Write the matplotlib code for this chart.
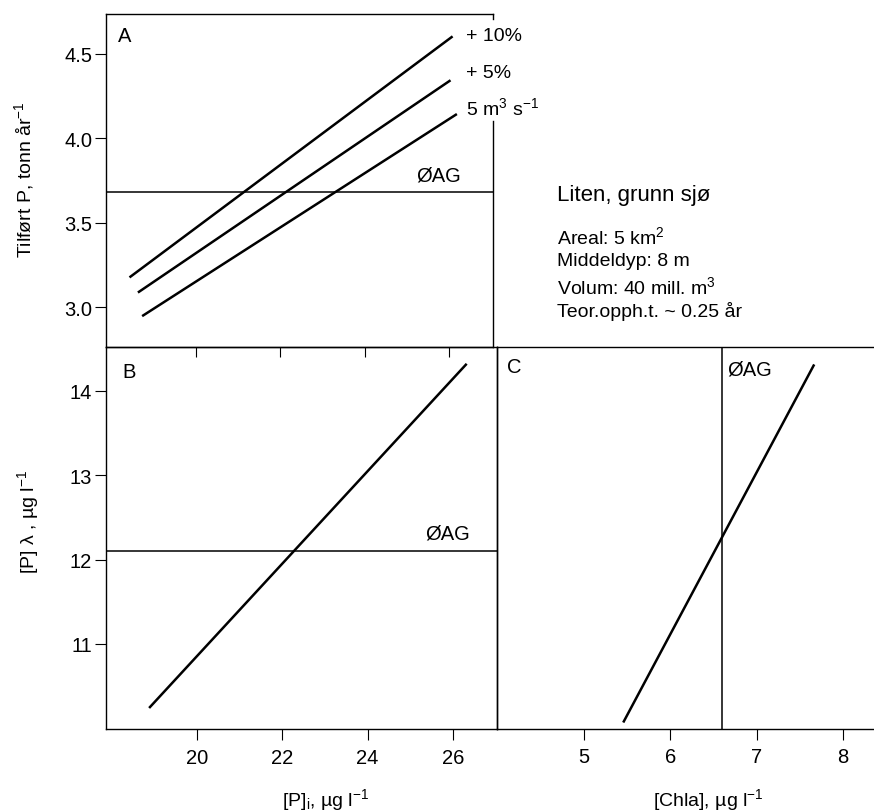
import matplotlib
matplotlib.use('Agg')
import matplotlib.pyplot as plt

plt.rcParams['font.family'] = ['Liberation Sans', 'DejaVu Sans']
plt.rcParams['mathtext.default'] = 'regular'
plt.rcParams['font.size'] = 14

# Panel A: tilført P vs [P]i for three flow scenarios
a_x_10 = [18.45, 26.05]
a_y_10 = [3.18, 4.60]
a_x_5 = [18.65, 26.0]
a_y_5 = [3.09, 4.34]
a_x_base = [18.75, 26.15]
a_y_base = [2.95, 4.14]
oag_a = 3.68
a_labels = ['+ 10%', '+ 5%', '5 m$^{3}$ s$^{-1}$']

# Panel B: [P]lambda vs [P]i
b_x = [18.9, 26.3]
b_y = [10.25, 14.31]
oag_b = 12.1

# Panel C: [P]lambda vs [Chla]
c_x = [5.46, 7.66]
c_y = [10.08, 14.3]
oag_c = 6.6

a_yticks = [3.0, 3.5, 4.0, 4.5]
b_yticks = [11, 12, 13, 14]
b_xticks = [20, 22, 24, 26]
c_xticks = [5, 6, 7, 8]

info_title = 'Liten, grunn sjø'
info_lines = ['Areal: 5 km$^{2}$', 'Middeldyp: 8 m',
              'Volum: 40 mill. m$^{3}$', 'Teor.opph.t. ~ 0.25 år']

W, H = 874, 812
fig = plt.figure(figsize=(W / 100, H / 100), dpi=100)


def box(l, t, r, b):
    return [l / W, 1 - b / H, (r - l) / W, (b - t) / H]


ax_a = fig.add_axes(box(106, 15, 493, 348), facecolor='none')
ax_b = fig.add_axes(box(106, 348, 497, 730), facecolor='none')
ax_c = fig.add_axes(box(497, 348, 874, 730), facecolor='none')

lw = 1.8
xlim_p = (17.87, 27.03)

# --- A ---
ax_a.plot(a_x_10, a_y_10, color='black', lw=lw)
ax_a.plot(a_x_5, a_y_5, color='black', lw=lw)
ax_a.plot(a_x_base, a_y_base, color='black', lw=lw)
ax_a.axhline(oag_a, color='black', lw=1.1)
ax_a.set_xlim(xlim_p)
ax_a.set_ylim(2.763, 4.737)
ax_a.set_yticks(a_yticks)
ax_a.set_yticklabels(['%.1f' % v for v in a_yticks])
ax_a.set_xticks(b_xticks)
ax_a.tick_params(axis='x', bottom=True, labelbottom=False, direction='out', length=7)
ax_a.tick_params(axis='y', direction='out', length=8, pad=2, labelsize=14.5)
ax_a.spines['right'].set_bounds(2.763, 4.1)
ax_a.plot([1, 1], [0.985, 1.0], transform=ax_a.transAxes, color='black', lw=1.0, clip_on=False)
for lab, yy in zip(a_labels, [4.607, 4.393, 4.186]):
    ax_a.text(26.39, yy, lab, ha='left', va='center', fontsize=14, clip_on=False)
ax_a.text(25.22, 3.78, 'ØAG', ha='left', va='center', fontsize=14.5)
ax_a.text(0.031, 0.934, 'A', transform=ax_a.transAxes, ha='left', va='center', fontsize=14.5)

# --- B ---
ax_b.plot(b_x, b_y, color='black', lw=lw)
ax_b.axhline(oag_b, color='black', lw=1.1)
ax_b.set_xlim(xlim_p)
ax_b.set_ylim(9.99, 14.52)
ax_b.set_xticks(b_xticks)
ax_b.set_yticks(b_yticks)
ax_b.tick_params(direction='out', length=8, pad=2, labelsize=14.5)
ax_b.tick_params(axis='x', pad=6)
ax_b.text(25.34, 12.32, 'ØAG', ha='left', va='center', fontsize=14.5)
ax_b.text(0.043, 0.935, 'B', transform=ax_b.transAxes, ha='left', va='center', fontsize=14.5)

# --- C ---
ax_c.plot(c_x, c_y, color='black', lw=lw)
ax_c.axvline(oag_c, color='black', lw=1.1)
ax_c.set_xlim(3.99, 8.36)
ax_c.set_ylim(9.99, 14.52)
ax_c.set_xticks(c_xticks)
ax_c.set_yticks([])
ax_c.spines['right'].set_visible(False)
ax_c.tick_params(direction='out', length=8, pad=5, labelsize=14.5)
ax_c.text(6.66, 14.26, 'ØAG', ha='left', va='center', fontsize=14.5)
ax_c.text(0.027, 0.948, 'C', transform=ax_c.transAxes, ha='left', va='center', fontsize=14.5)

for ax in (ax_a, ax_b, ax_c):
    for s in ax.spines.values():
        s.set_linewidth(1.0)

# axis titles
fig.text(24 / W, 1 - 180 / H, 'Tilført P, tonn år$^{-1}$', rotation=90,
         ha='center', va='center', fontsize=14)
fig.text(28 / W, 1 - 522 / H, '[P] λ , µg l$^{-1}$', rotation=90,
         ha='center', va='center', fontsize=14)
fig.text(326 / W, 1 - 800 / H, '[P]$_{i}$, µg l$^{-1}$', ha='center', va='center', fontsize=14)
fig.text(708 / W, 1 - 800 / H, '[Chla], µg l$^{-1}$', ha='center', va='center', fontsize=14)

# lake info
fig.text(557 / W, 1 - 195 / H, info_title, ha='left', va='center', fontsize=16)
for i, line in enumerate(info_lines):
    fig.text(557 / W, 1 - (237 + 25 * i) / H, line, ha='left', va='center', fontsize=14)

fig.savefig('out.png', dpi=100)
